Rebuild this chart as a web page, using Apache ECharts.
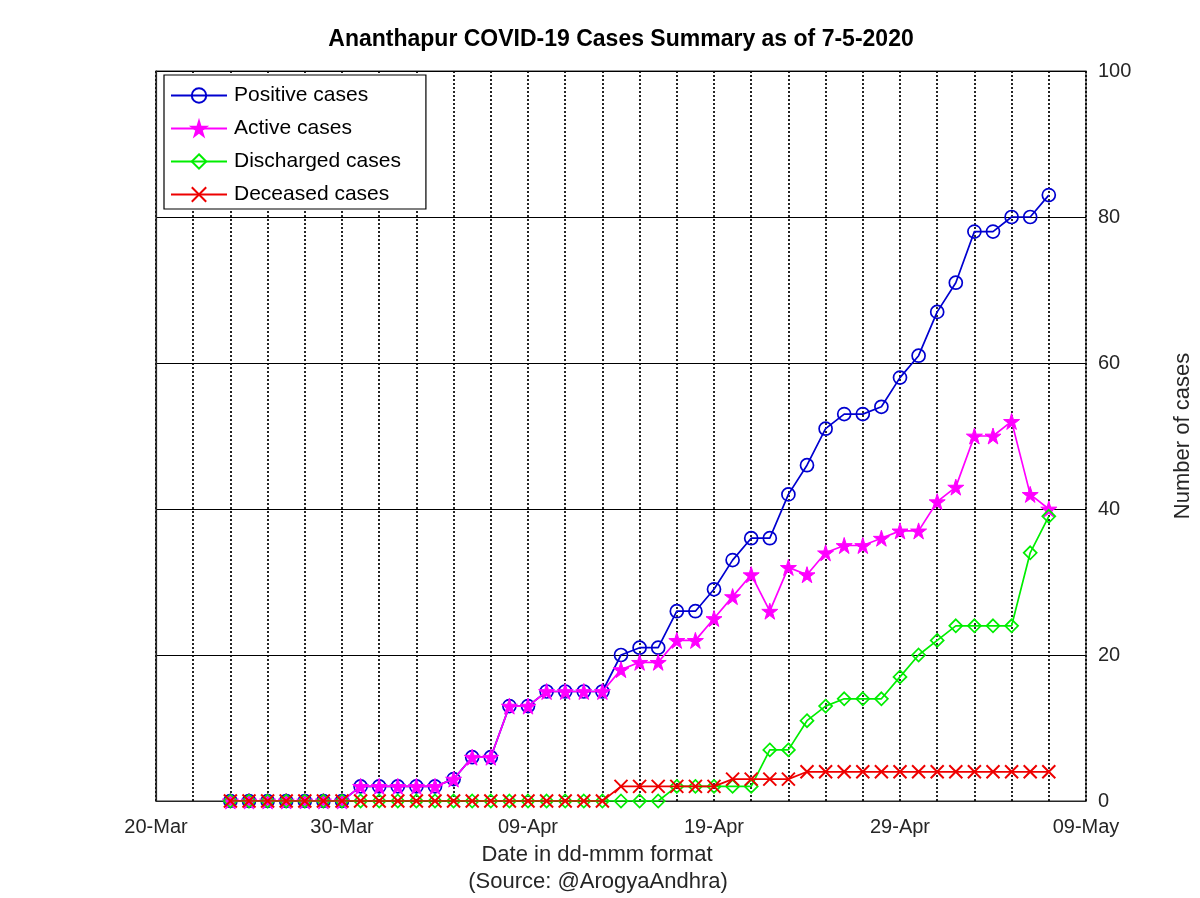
<!DOCTYPE html>
<html>
<head>
<meta charset="utf-8">
<script src="https://cdn.jsdelivr.net/npm/echarts@6/dist/echarts.min.js"></script>
<style>html,body{margin:0;padding:0;background:#fff}#c{width:1200px;height:898px}</style>
</head>
<body>
<div id="c"></div>
<script>
const dates = ['2020-03-24','2020-03-25','2020-03-26','2020-03-27','2020-03-28','2020-03-29','2020-03-30','2020-03-31',
'2020-04-01','2020-04-02','2020-04-03','2020-04-04','2020-04-05','2020-04-06','2020-04-07','2020-04-08','2020-04-09','2020-04-10',
'2020-04-11','2020-04-12','2020-04-13','2020-04-14','2020-04-15','2020-04-16','2020-04-17','2020-04-18','2020-04-19','2020-04-20',
'2020-04-21','2020-04-22','2020-04-23','2020-04-24','2020-04-25','2020-04-26','2020-04-27','2020-04-28','2020-04-29','2020-04-30',
'2020-05-01','2020-05-02','2020-05-03','2020-05-04','2020-05-05','2020-05-06','2020-05-07'];
const positiveCases   = [0,0,0,0,0,0,0,2,2,2,2,2,3,6,6,13,13,15,15,15,15,20,21,21,26,26,29,33,36,36,42,46,51,53,53,54,58,61,67,71,78,78,80,80,83];
const activeCases     = [0,0,0,0,0,0,0,2,2,2,2,2,3,6,6,13,13,15,15,15,15,18,19,19,22,22,25,28,31,26,32,31,34,35,35,36,37,37,41,43,50,50,52,42,40];
const dischargedCases = [0,0,0,0,0,0,0,0,0,0,0,0,0,0,0,0,0,0,0,0,0,0,0,0,2,2,2,2,2,7,7,11,13,14,14,14,17,20,22,24,24,24,24,34,39];
const deceasedCases   = [0,0,0,0,0,0,0,0,0,0,0,0,0,0,0,0,0,0,0,0,0,2,2,2,2,2,2,3,3,3,3,4,4,4,4,4,4,4,4,4,4,4,4,4,4];
const xTickLabels = ['20-Mar','30-Mar','09-Apr','19-Apr','29-Apr','09-May'];
const startDate = '2020-03-20';
const yTicks = [0,20,40,60,80,100];

const dayOf = d => Math.round((Date.parse(d) - Date.parse(startDate)) / 86400000);
const pts = arr => arr.map((v, i) => [dayOf(dates[i]), v]);

const STAR = 'path://M50,0 L61,35 L98,35 L68,57 L79,91 L50,70 L21,91 L32,57 L2,35 L39,35 Z';
const XMARK = 'path://M0,0 L10,10 M10,0 L0,10';
const FONT = '"Liberation Sans", Arial, Helvetica, sans-serif';
const TXT = '#262626';

const chart = echarts.init(document.getElementById('c'), null, {renderer: 'canvas'});
chart.setOption({
  animation: false,
  backgroundColor: '#fff',
  textStyle: {fontFamily: FONT},
  grid: {left: 156, right: 114, top: 71, bottom: 97, outerBoundsMode: 'none', containLabel: false,
         show: true, borderColor: TXT, borderWidth: 1.2, backgroundColor: 'transparent'},
  xAxis: {
    type: 'value', min: 0, max: 50, interval: 2,
    axisLine: {show: true, lineStyle: {color: TXT, width: 1.2}},
    axisTick: {show: false},
    axisLabel: {
      color: TXT, fontSize: 20, fontFamily: FONT, margin: 16,
      formatter: v => (v % 10 === 0 ? xTickLabels[v / 10] : '')
    },
    splitLine: {show: true, lineStyle: {color: '#000', width: 1.7, type: [2, 2]}}
  },
  yAxis: {
    type: 'value', position: 'right', min: yTicks[0], max: yTicks[yTicks.length - 1], interval: 20,
    axisLine: {show: true, lineStyle: {color: TXT, width: 1.2}},
    axisTick: {show: false},
    axisLabel: {color: TXT, fontSize: 20, fontFamily: FONT, margin: 12},
    splitLine: {show: true, lineStyle: {color: '#000', width: 1.2, type: 'solid'}},
    name: 'Number of cases', nameLocation: 'middle', nameRotate: 90, nameGap: 86,
    nameTextStyle: {color: TXT, fontSize: 22, fontFamily: FONT}
  },
  legend: {
    orient: 'vertical', left: 164, top: 75,
    backgroundColor: '#fff', borderColor: '#000', borderWidth: 1.2,
    padding: [10, 25, 4, 6],
    itemWidth: 56, itemHeight: 18, itemGap: 12,
    textStyle: {color: '#000', fontSize: 21, fontFamily: FONT, lineHeight: 18, padding: [0, 0, 0, 2]},
    data: ['Positive cases', 'Active cases', 'Discharged cases', 'Deceased cases']
  },
  graphic: [
    {type: 'text', x: 621, y: 40, style: {text: 'Ananthapur COVID-19 Cases Summary as of 7-5-2020', fill: '#000', font: 'bold 23px ' + FONT, textAlign: 'center', textVerticalAlign: 'middle'}},
    {type: 'text', x: 597, y: 855, style: {text: 'Date in dd-mmm format', fill: TXT, font: '22px ' + FONT, textAlign: 'center', textVerticalAlign: 'middle'}},
    {type: 'text', x: 598, y: 882, style: {text: '(Source: @ArogyaAndhra)', fill: TXT, font: '22px ' + FONT, textAlign: 'center', textVerticalAlign: 'middle'}}
  ],
  series: [
    {name: 'Positive cases', type: 'line', data: pts(positiveCases), symbol: 'circle', symbolSize: 13,
     lineStyle: {color: '#0000d0', width: 1.7}, itemStyle: {color: 'rgba(0,0,0,0)', borderColor: '#0000d0', borderWidth: 1.7}, z: 2},
    {name: 'Active cases', type: 'line', data: pts(activeCases), symbol: STAR, symbolSize: 16,
     lineStyle: {color: '#ff00ff', width: 1.7}, itemStyle: {color: '#ff00ff', borderColor: '#ff00ff', borderWidth: 1}, z: 3},
    {name: 'Discharged cases', type: 'line', data: pts(dischargedCases), symbol: 'diamond', symbolSize: 13,
     lineStyle: {color: '#00ee00', width: 1.7}, itemStyle: {color: 'rgba(0,0,0,0)', borderColor: '#00ee00', borderWidth: 1.7}, z: 4},
    {name: 'Deceased cases', type: 'line', data: pts(deceasedCases), symbol: XMARK, symbolSize: 13,
     lineStyle: {color: '#ee0000', width: 1.7}, itemStyle: {color: '#ee0000', borderColor: '#ee0000', borderWidth: 2}, z: 5}
  ]
});
</script>
</body>
</html>
